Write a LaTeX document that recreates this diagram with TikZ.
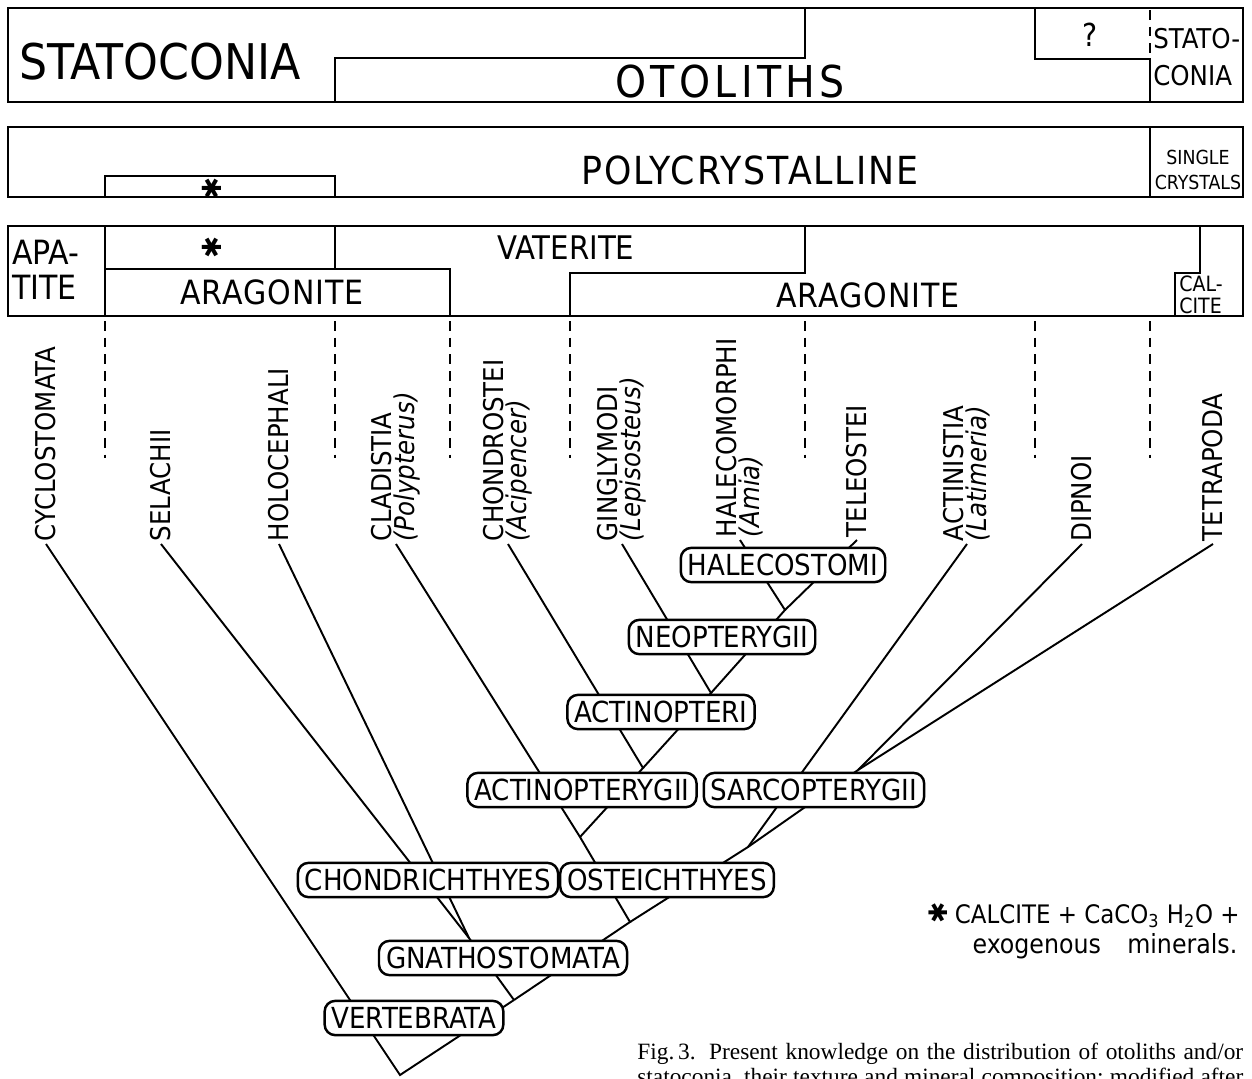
\documentclass[tikz,border=0pt]{standalone}
\usepackage{fontspec}
\setmainfont{Liberation Serif}
\newfontfamily\dinfont{DejaVu Sans Condensed}
\newfontfamily\symfont{DejaVu Sans}
\newcommand{\exomark}{{\symfont\rotatebox{90}{✱}}}

\begin{document}
\begin{tikzpicture}[
  x=0.02cm, y=-0.02cm,
  frame/.style={line width=1.6pt},
  divider/.style={line width=1.4pt},
  dashdiv/.style={line width=1.5pt, dash pattern=on 5.5pt off 4pt},
  branch/.style={line width=1.1pt},
  bartext/.style 2 args={inner sep=0pt, font=\dinfont\fontsize{#1}{#2}\selectfont},
  taxon/.style={rotate=90, anchor=west, inner sep=1.5pt, align=left, font=\dinfont\fontsize{15.5}{13}\selectfont},
  clade/.style={draw, line width=1.4pt, fill=white, rounded corners=6pt, inner xsep=4pt, inner ysep=0pt, minimum height=19.5pt, font=\dinfont\fontsize{16.5}{16.5}\selectfont},
]
\useasboundingbox (0,0) rectangle (1252,1079);
\clip (0,0) rectangle (1252,1079);
\fill[white] (0,0) rectangle (1252,1079);

% otoliths / statoconia
\draw[frame] (8,8) rectangle (1243,102);
\draw[divider] (335,102) -- (335,58) -- (805,58) -- (805,8);
\draw[divider] (1035,8) -- (1035,59) -- (1150,59) -- (1150,102);
\draw[dashdiv] (1150,10) -- (1150,58);
\node[bartext={28}{28}] (statoc) at (160,62) {STATOCONIA};
\node[bartext={25}{25}] (otol) at (730,82) {\addfontfeature{LetterSpace=10}OTOLITHS};
\node[bartext={18}{18}] (quest) at (1090,35) {?};
\node[bartext={15.5}{21}, align=left, anchor=west] (statoc2) at (1153,57) {STATO-\\CONIA};

% texture
\draw[frame] (8,127) rectangle (1243,197);
\draw[divider] (105,197) -- (105,176) -- (335,176) -- (335,197);
\draw[divider] (1150,127) -- (1150,197);
\node[bartext={15}{15}] (exo1) at (212,188) {\exomark};
\node[bartext={22}{22}] (poly) at (750,170) {\addfontfeature{LetterSpace=5}POLYCRYSTALLINE};
\node[bartext={11}{14.7}, align=center] (single) at (1198,170) {SINGLE\\CRYSTALS};

% mineral composition
\draw[frame] (8,226) rectangle (1243,316);
\draw[divider] (105,226) -- (105,316);
\draw[divider] (335,226) -- (335,269);
\draw[divider] (105,269) -- (450,269) -- (450,316);
\draw[divider] (570,316) -- (570,273) -- (805,273) -- (805,226);
\draw[divider] (1200,226) -- (1200,273) -- (1175,273) -- (1175,316);
\node[bartext={19}{20}, align=left, anchor=west] (apat) at (12,270) {APA-\\TITE};
\node[bartext={15}{15}] (exo2) at (212,247) {\exomark};
\node[bartext={18.5}{18.5}] (vater) at (566,248) {VATERITE};
\node[bartext={19}{19}] (arag1) at (272,292) {\addfontfeature{LetterSpace=3}ARAGONITE};
\node[bartext={19}{19}] (arag2) at (868,295) {\addfontfeature{LetterSpace=3}ARAGONITE};
\node[bartext={12}{12.5}, align=left, anchor=west] (calc) at (1179,295) {CAL-\\CITE};

\foreach \xd in {105,335,450,570,805,1035,1150}
  \draw[dashdiv] (\xd,321) -- (\xd,458);

% taxa
\node[taxon] (cyclo) at (46,544) {CYCLOSTOMATA};
\node[taxon] (selach) at (161,544) {SELACHII};
\node[taxon] (holoc) at (279,544) {HOLOCEPHALI};
\node[taxon] (cladis) at (396,544) {CLADISTIA\\\textit{(Polypterus)}};
\node[taxon] (chondr) at (508,544) {CHONDROSTEI\\\textit{(Acipencer)}};
\node[taxon] (gingly) at (622,544) {GINGLYMODI\\\textit{(Lepisosteus)}};
\node[taxon] (halmor) at (740,540) {HALECOMORPHI\\\textit{(Amia)}};
\node[taxon] (teleo) at (857,540) {TELEOSTEI};
\node[taxon] (actinis) at (967,544) {ACTINISTIA\\\textit{(Latimeria)}};
\node[taxon] (dipnoi) at (1082,544) {DIPNOI};
\node[taxon] (tetra) at (1213,544) {TETRAPODA};

% branch points
\coordinate (jvert) at (400,1075);
\coordinate (jgnat) at (514,1000);
\coordinate (jchon) at (469,938);
\coordinate (joste) at (630,922);
\coordinate (jactg) at (580,837);
\coordinate (jsarc) at (748,847);
\coordinate (jdite) at (858,770);
\coordinate (jacti) at (643,768);
\coordinate (jneop) at (711,693);
\coordinate (jhale) at (785,610);

\draw[branch] (cyclo.west) -- (jvert) -- (jgnat);
\draw[branch] (jgnat) -- (jchon) -- (selach.west);
\draw[branch] (jchon) -- (holoc.west);
\draw[branch] (jgnat) -- (joste) -- (jactg) -- (cladis.west);
\draw[branch] (joste) -- (jsarc) -- (jdite);
\draw[branch] (jsarc) -- (actinis.west);
\draw[branch] (jdite) -- (dipnoi.west);
\draw[branch] (jdite) -- (tetra.west);
\draw[branch] (jactg) -- (jacti) -- (chondr.west);
\draw[branch] (jacti) -- (jneop) -- (gingly.west);
\draw[branch] (jneop) -- (jhale) -- (halmor.west);
\draw[branch] (jhale) -- (teleo.west);

% clades
\node[clade] (halec) at (783,565) {HALECOSTOMI};
\node[clade] (neopt) at (722,637) {NEOPTERYGII};
\node[clade] (actpi) at (661,712) {ACTINOPTERI};
\node[clade] (actgy) at (582,790) {ACTINOPTERYGII};
\node[clade] (sarco) at (814,790) {SARCOPTERYGII};
\node[clade] (chond) at (428,880) {CHONDRICHTHYES};
\node[clade] (ostei) at (667,880) {OSTEICHTHYES};
\node[clade] (gnath) at (503,958) {GNATHOSTOMATA};
\node[clade] (verte) at (414,1018) {VERTEBRATA};

% key and caption
\node[bartext={14.5}{14.5}, anchor=east] (key1) at (1240,915) {\exomark\ CALCITE + CaCO\textsubscript{3} H\textsubscript{2}O +};
\node[bartext={15}{15}] (key2) at (1105,946) {exogenous\quad minerals.};
\node[anchor=north west, inner sep=0pt, align=left, font=\fontsize{13.3}{14.2}\selectfont] (caption) at (637,1043)
  {\makebox[12.12cm][s]{Fig.\,3. Present knowledge on the distribution of otoliths and/or}\\
   \makebox[12.12cm][s]{statoconia, their texture and mineral composition; modified after}};
\end{tikzpicture}
\end{document}
